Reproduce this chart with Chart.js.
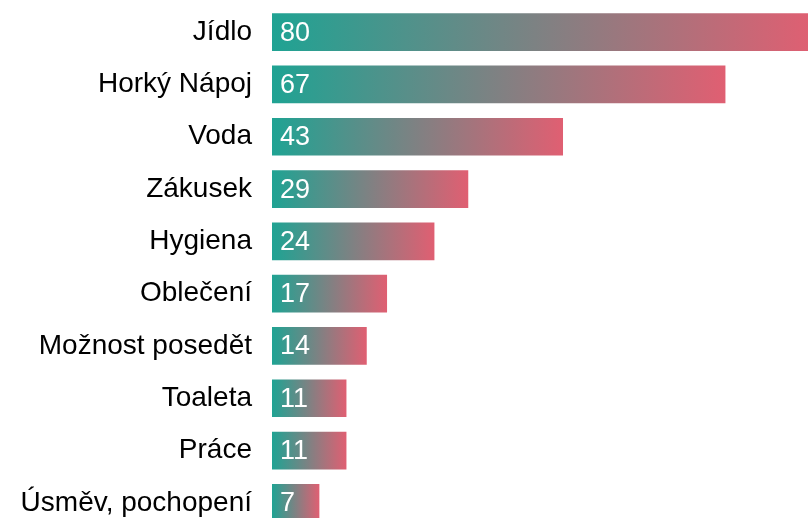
<!DOCTYPE html>
<html>
<head>
<meta charset="utf-8">
<script src="https://cdn.jsdelivr.net/npm/chart.js@4"></script>
<style>
html,body{margin:0;padding:0;background:#fff;overflow:hidden;}
#wrap{position:relative;width:808px;height:529px;}
</style>
</head>
<body>
<div id="wrap"><canvas id="c"></canvas></div>
<script>
const categories = ["Jídlo","Horký Nápoj","Voda","Zákusek","Hygiena","Oblečení","Možnost posedět","Toaleta","Práce","Úsměv, pochopení"];
const values = [80,67,43,29,24,17,14,11,11,7];
const colorStart = "#1fa393";
const colorEnd = "#e05f72";
const FONT = '"Liberation Sans", Arial, Helvetica, sans-serif';

const valueLabels = {
  id: 'valueLabels',
  afterDatasetsDraw(chart) {
    const ctx = chart.ctx;
    const meta = chart.getDatasetMeta(0);
    ctx.save();
    ctx.fillStyle = '#fff';
    ctx.font = '27px ' + FONT;
    ctx.textAlign = 'left';
    ctx.textBaseline = 'middle';
    meta.data.forEach((el, i) => {
      ctx.fillText(String(values[i]), el.base + 8, el.y + 1);
    });
    ctx.restore();
  }
};

new Chart(document.getElementById('c'), {
  type: 'bar',
  data: {
    labels: categories,
    datasets: [{
      data: values,
      borderWidth: 0,
      backgroundColor: (c) => {
        const chart = c.chart;
        if (!chart.chartArea || c.dataIndex === undefined) return colorStart;
        const xs = chart.scales.x;
        const x0 = xs.getPixelForValue(0);
        const x1 = xs.getPixelForValue(values[c.dataIndex]);
        const g = chart.ctx.createLinearGradient(x0, 0, x1, 0);
        g.addColorStop(0, colorStart);
        g.addColorStop(1, colorEnd);
        return g;
      }
    }]
  },
  options: {
    indexAxis: 'y',
    responsive: true,
    maintainAspectRatio: false,
    animation: false,
    layout: { padding: { top: 6, right: 0, bottom: 0, left: 0 } },
    plugins: { legend: { display: false }, tooltip: { enabled: false } },
    scales: {
      x: { display: false, min: 0, max: 79.2 },
      y: {
        afterFit: (s) => { s.width = 272; s.paddingTop = 0; s.paddingBottom = 0; },
        grid: { display: false },
        border: { display: false },
        ticks: {
          color: '#000',
          padding: 12,
          font: { family: FONT, size: 28 }
        }
      }
    }
  },
  plugins: [valueLabels]
});
</script>
</body>
</html>
